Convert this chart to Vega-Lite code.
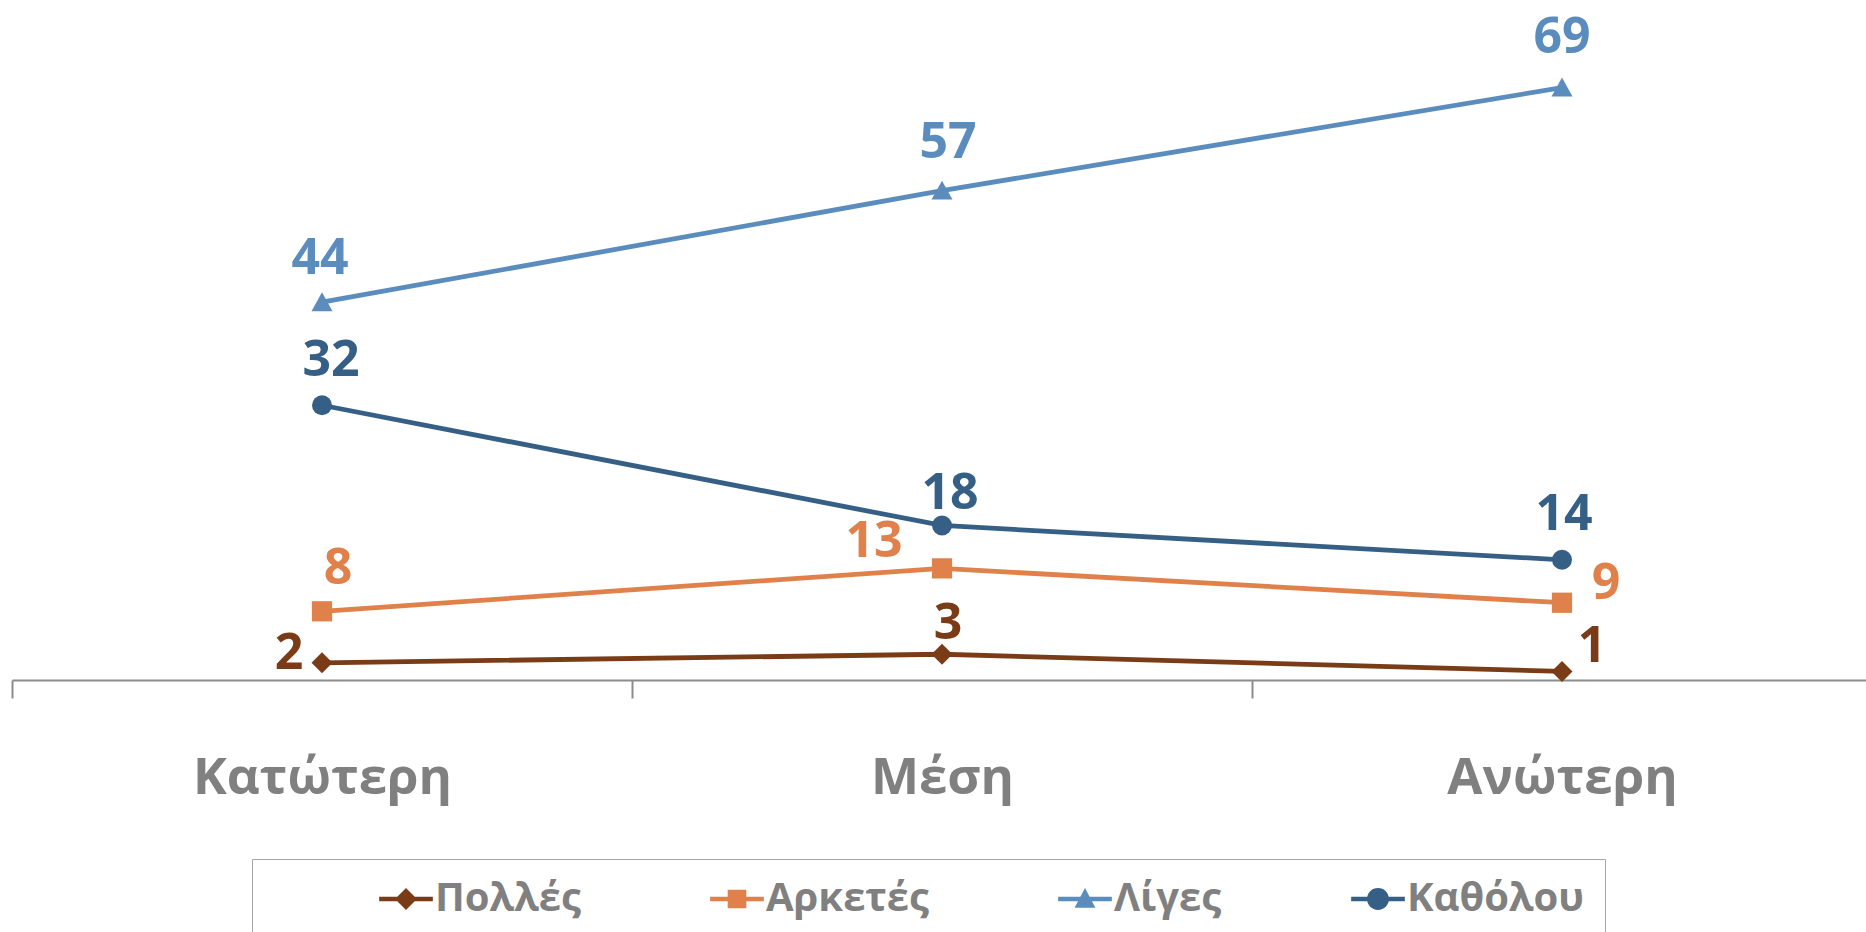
{
  "$schema": "https://vega.github.io/schema/vega-lite/v6.json",
  "width": 1854,
  "height": 680,
  "autosize": "none",
  "padding": {"left": 12, "top": 0, "right": 0, "bottom": 252},
  "background": "white",
  "config": {"view": {"stroke": null}, "font": "Open Sans"},
  "data": {
    "values": [
      {"level": "Κατώτερη", "series": "Πολλές", "value": 2},
      {"level": "Μέση", "series": "Πολλές", "value": 3},
      {"level": "Ανώτερη", "series": "Πολλές", "value": 1},
      {"level": "Κατώτερη", "series": "Αρκετές", "value": 8},
      {"level": "Μέση", "series": "Αρκετές", "value": 13},
      {"level": "Ανώτερη", "series": "Αρκετές", "value": 9},
      {"level": "Κατώτερη", "series": "Λίγες", "value": 44},
      {"level": "Μέση", "series": "Λίγες", "value": 57},
      {"level": "Ανώτερη", "series": "Λίγες", "value": 69},
      {"level": "Κατώτερη", "series": "Καθόλου", "value": 32},
      {"level": "Μέση", "series": "Καθόλου", "value": 18},
      {"level": "Ανώτερη", "series": "Καθόλου", "value": 14}
    ]
  },
  "encoding": {
    "x": {
      "field": "level",
      "type": "nominal",
      "sort": ["Κατώτερη", "Μέση", "Ανώτερη"],
      "scale": {"type": "band", "domain": ["Κατώτερη", "Μέση", "Ανώτερη"], "range": [0, 1860], "paddingInner": 0, "paddingOuter": 0},
      "axis": {
        "title": null,
        "grid": false,
        "domainColor": "#8c8c8c",
        "domainWidth": 2,
        "tickColor": "#8c8c8c",
        "tickWidth": 2,
        "tickSize": 18,
        "tickBand": "extent",
        "labelAngle": 0,
        "labelFont": "Open Sans",
        "labelFontSize": 51,
        "labelFontWeight": "bold",
        "labelColor": "#808080",
        "labelBaseline": "alphabetic",
        "labelPadding": 95,
        "labelLimit": 0
      }
    },
    "y": {
      "field": "value",
      "type": "quantitative",
      "scale": {"domain": [0, 79.2], "nice": false, "zero": true},
      "axis": null
    },
    "color": {
      "field": "series",
      "type": "nominal",
      "scale": {
        "domain": ["Πολλές", "Αρκετές", "Λίγες", "Καθόλου"],
        "range": ["#7a3b17", "#e0804a", "#5a8dbe", "#365f86"]
      },
      "legend": {
        "orient": "none",
        "legendX": 240,
        "legendY": 859,
        "direction": "horizontal",
        "columns": 4,
        "title": "\u00a0",
        "titleOrient": "left",
        "titleFontSize": 2,
        "titlePadding": 114,
        "padding": 20,
        "strokeColor": "#a6a6a6",
        "symbolSize": 480,
        "symbolStrokeWidth": 0,
        "symbolOpacity": 1,
        "labelFont": "Open Sans",
        "labelFontSize": 40,
        "labelFontWeight": "bold",
        "labelColor": "#808080",
        "labelOffset": 9,
        "labelLimit": 0,
        "columnPadding": 129,
        "labelExpr": "datum.label == 'Καθόλου' ? datum.label + '\u00a0\u00a0\u00a0\u00a0\u00a0\u00a0\u00a0\u00a0\u00a0\u00a0\u00a0\u00a0\u00a0\u00a0\u00a0\u00a0\u00a0\u00a0\u00a0\u00a0\u00a0\u00a0\u00a0\u00a0\u00a0\u00a0\u00a0\u00a0\u00a0\u00a0\u00a0\u00a0\u00a0\u00a0\u00a0' : datum.label"
      }
    }
  },
  "layer": [
    {
      "mark": {"type": "line", "strokeWidth": 4.8},
      "encoding": {"detail": {"field": "series"}}
    },
    {
      "transform": [{"filter": "datum.series == 'Πολλές'"}],
      "mark": {"type": "point", "filled": true, "opacity": 1, "shape": "diamond", "size": 440}
    },
    {
      "transform": [{"filter": "datum.series == 'Αρκετές'"}],
      "mark": {"type": "point", "filled": true, "opacity": 1, "shape": "square", "size": 410}
    },
    {
      "transform": [{"filter": "datum.series == 'Λίγες'"}],
      "mark": {"type": "point", "filled": true, "opacity": 1, "shape": "M0,-0.95L1,0.85H-1Z", "size": 440}
    },
    {
      "transform": [{"filter": "datum.series == 'Καθόλου'"}],
      "mark": {"type": "point", "filled": true, "opacity": 1, "shape": "circle", "size": 400}
    },
    {
      "mark": {
        "type": "text",
        "font": "Open Sans",
        "fontSize": 50,
        "fontWeight": "bold",
        "align": "center",
        "baseline": "middle",
        "dx": {"expr": "datum.series == 'Λίγες' ? (datum.level == 'Κατώτερη' ? -2 : datum.level == 'Μέση' ? 6 : 0) : datum.series == 'Καθόλου' ? (datum.level == 'Κατώτερη' ? 9 : datum.level == 'Μέση' ? 8 : 2) : datum.series == 'Αρκετές' ? (datum.level == 'Κατώτερη' ? 16 : datum.level == 'Μέση' ? -68 : 44) : (datum.level == 'Κατώτερη' ? -33 : datum.level == 'Μέση' ? 6 : 30)"},
        "dy": {"expr": "datum.series == 'Λίγες' ? (datum.level == 'Κατώτερη' ? -43 : datum.level == 'Μέση' ? -48 : -50) : datum.series == 'Καθόλου' ? (datum.level == 'Κατώτερη' ? -44 : datum.level == 'Μέση' ? -31 : -45) : datum.series == 'Αρκετές' ? (datum.level == 'Κατώτερη' ? -42 : datum.level == 'Μέση' ? -26 : -19) : (datum.level == 'Κατώτερη' ? -9 : datum.level == 'Μέση' ? -30 : -24)"}
      },
      "encoding": {"text": {"field": "value", "type": "quantitative"}}
    },
    {
      "transform": [{"filter": "false"}],
      "mark": {"type": "point", "filled": true, "opacity": 1},
      "encoding": {
        "shape": {
          "field": "series",
          "type": "nominal",
          "scale": {
            "domain": ["Πολλές", "Αρκετές", "Λίγες", "Καθόλου"],
            "range": [
              "M-2.45,-0.2H2.45V0.2H-2.45Z M0,-1L1,0L0,1L-1,0Z",
              "M-2.45,-0.2H2.45V0.2H-2.45Z M-0.85,-0.85H0.85V0.85H-0.85Z",
              "M-2.45,-0.2H2.45V0.2H-2.45Z M0,-1L0.95,0.8H-0.95Z",
              "M-2.45,-0.2H2.45V0.2H-2.45Z M1,0A1,1,0,1,1,-1,0A1,1,0,1,1,1,0Z"
            ]
          },
          "legend": {
            "orient": "none",
            "legendX": 240,
            "legendY": 859,
            "direction": "horizontal",
            "columns": 4,
            "title": "\u00a0",
            "titleOrient": "left",
            "titleFontSize": 2,
            "titlePadding": 114,
            "padding": 20,
            "strokeColor": "#a6a6a6",
            "symbolSize": 480,
            "symbolStrokeWidth": 0,
            "symbolOpacity": 1,
            "labelFont": "Open Sans",
            "labelFontSize": 40,
            "labelFontWeight": "bold",
            "labelColor": "#808080",
            "labelOffset": 9,
            "labelLimit": 0,
            "columnPadding": 129,
            "labelExpr": "datum.label == 'Καθόλου' ? datum.label + '\u00a0\u00a0\u00a0\u00a0\u00a0\u00a0\u00a0\u00a0\u00a0\u00a0\u00a0\u00a0\u00a0\u00a0\u00a0\u00a0\u00a0\u00a0\u00a0\u00a0\u00a0\u00a0\u00a0\u00a0\u00a0\u00a0\u00a0\u00a0\u00a0\u00a0\u00a0\u00a0\u00a0\u00a0\u00a0' : datum.label"
          }
        }
      }
    }
  ]
}
